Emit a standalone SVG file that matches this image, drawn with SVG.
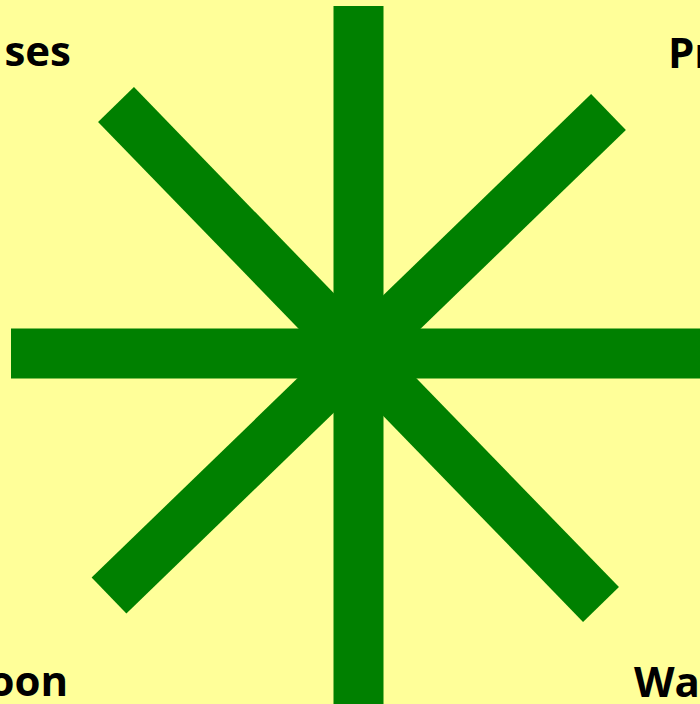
<svg xmlns="http://www.w3.org/2000/svg" width="700" height="704" viewBox="0 0 700 704">
<style>
.bar{stroke:#008000;stroke-width:50;stroke-linecap:butt;fill:none}
.lbl{font-family:"Open Sans","Liberation Sans",sans-serif;font-weight:700;font-size:42px;fill:#000}
</style>
<rect width="700" height="704" fill="#FFFF99"/>
<g id="connectors">
<line class="bar" x1="358.5" y1="6" x2="358.5" y2="704"/>
<line class="bar" x1="11" y1="353.5" x2="700" y2="353.5"/>
<line class="bar" x1="116" y1="104.5" x2="601" y2="604.5"/>
<line class="bar" x1="608.5" y1="112" x2="109" y2="595.5"/>
</g>
<g id="node-tl"><text class="lbl" x="71" y="66" text-anchor="end">ses</text></g>
<g id="node-tr"><text class="lbl" x="668" y="68">Pr</text></g>
<g id="node-bl"><text class="lbl" x="68" y="696" text-anchor="end">oon</text></g>
<g id="node-br"><text class="lbl" x="634" y="697">Wa</text></g>
</svg>
